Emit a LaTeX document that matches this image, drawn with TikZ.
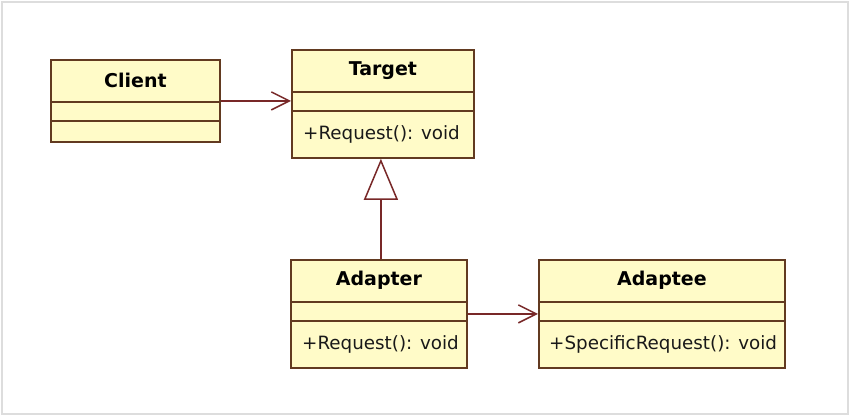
\documentclass[tikz,border=0pt]{standalone}
\usepackage{fontspec}
\setmainfont{DejaVu Sans}
\usetikzlibrary{arrows.meta}
\definecolor{boxfill}{RGB}{255,251,200}
\definecolor{boxline}{RGB}{98,58,32}
\definecolor{linkcol}{RGB}{120,40,40}
\definecolor{framecol}{RGB}{221,221,221}
\tikzset{
  cls/.style={draw=boxline, fill=boxfill, line width=1.8pt, anchor=north west, inner sep=0pt},
  sep/.style={draw=boxline, line width=1.6pt},
  title/.style={font=\bfseries\fontsize{19}{19}\selectfont, text=black},
  oper/.style={font=\fontsize{18.3}{18.3}\selectfont, anchor=west, inner sep=0pt, text=black!90},
  use/.style={draw=linkcol, line width=1.6pt, -{Straight Barb[length=18pt,width=18pt,line width=1.5pt]}},
  inherit/.style={draw=linkcol, line width=1.6pt, -{Triangle[open,fill=white,length=41pt,width=34pt,line width=1.5pt]}}
}
\begin{document}
\begin{tikzpicture}[x=1pt,y=-1pt]
            \useasboundingbox[fill=white] (0,0) rectangle (850,416);
            \draw[framecol, line width=2pt] (2,2) rectangle (848,414);

            \node[cls, minimum width=169pt, minimum height=82pt] (client) at (50,59) {};
            \node[cls, minimum width=182pt, minimum height=108pt] (target) at (291,49) {};
            \node[cls, minimum width=176pt, minimum height=108pt] (adapter) at (290,259) {};
            \node[cls, minimum width=246pt, minimum height=108pt] (adaptee) at (538,259) {};

            % compartments
            \draw[sep] ([yshift=-43pt]client.north west) -- ([yshift=-43pt]client.north east);
            \draw[sep] ([yshift=-62pt]client.north west) -- ([yshift=-62pt]client.north east);
            \foreach \c in {target,adapter,adaptee} {
              \draw[sep] ([yshift=-43pt]\c.north west) -- ([yshift=-43pt]\c.north east);
              \draw[sep] ([yshift=-62pt]\c.north west) -- ([yshift=-62pt]\c.north east);
            }

            \node[title] (clientname) at ([yshift=-21.5pt]client.north) {Client};
            \node[title] (targetname) at ([yshift=-21.5pt]target.north) {Target};
            \node[title] (adaptername) at ([yshift=-21.5pt]adapter.north) {Adapter};
            \node[title] (adapteename) at ([yshift=-21.5pt]adaptee.north) {Adaptee};

            \node[oper] (targetop) at ([xshift=12pt,yshift=-85pt]target.north west) {+Request(): void};
            \node[oper] (adapterop) at ([xshift=12pt,yshift=-85pt]adapter.north west) {+Request(): void};
            \node[oper] (adapteeop) at ([xshift=11pt,yshift=-85pt]adaptee.north west) {+SpecificRequest(): void};

            \draw[use] (client.east) -- (client.east -| target.west);
            \draw[use] (adapter.east) -- (adaptee.west);
            \draw[inherit] ([xshift=2pt]adapter.north) -- ([xshift=2pt]adapter.north |- target.south);
        \end{tikzpicture}
\end{document}
